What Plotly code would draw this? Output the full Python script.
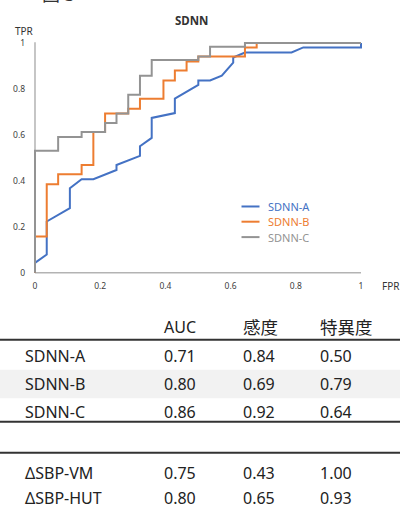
import plotly.graph_objects as go

# ---- ROC data ----
fpr_a = [0, 0, 0.036, 0.036, 0.107, 0.107, 0.143, 0.179, 0.25, 0.25, 0.322, 0.322, 0.358, 0.358,
         0.429, 0.429, 0.501, 0.501, 0.537, 0.573, 0.608, 0.608, 0.644, 0.787, 0.823, 1, 1]
tpr_a = [0, 0.043, 0.079, 0.223, 0.281, 0.368, 0.407, 0.407, 0.447, 0.469, 0.509, 0.551, 0.587, 0.674,
         0.695, 0.758, 0.818, 0.837, 0.837, 0.858, 0.915, 0.937, 0.959, 0.959, 0.981, 0.981, 1]

fpr_b = [0, 0, 0.036, 0.036, 0.071, 0.071, 0.143, 0.143, 0.179, 0.179, 0.215, 0.215, 0.286, 0.286,
         0.322, 0.322, 0.394, 0.394, 0.429, 0.429, 0.465, 0.465, 0.501, 0.501, 0.644, 0.644, 0.68, 0.68, 1]
tpr_b = [0, 0.158, 0.158, 0.385, 0.385, 0.429, 0.429, 0.469, 0.469, 0.613, 0.613, 0.693, 0.693, 0.714,
         0.714, 0.758, 0.758, 0.837, 0.837, 0.880, 0.880, 0.92, 0.92, 0.941, 0.941, 0.981, 0.981, 1, 1]

fpr_c = [0, 0, 0.071, 0.071, 0.143, 0.143, 0.215, 0.215, 0.25, 0.25, 0.286, 0.286, 0.322, 0.322,
         0.358, 0.358, 0.501, 0.501, 0.537, 0.537, 0.644, 0.644, 1]
tpr_c = [0, 0.531, 0.531, 0.591, 0.591, 0.613, 0.613, 0.652, 0.652, 0.693, 0.693, 0.775, 0.775, 0.858,
         0.858, 0.926, 0.926, 0.941, 0.941, 0.984, 0.984, 1, 1]

series_names = ["SDNN-A", "SDNN-B", "SDNN-C"]
series_colors = ["#4472C4", "#ED7D31", "#939393"]

tick_vals = [0, 0.2, 0.4, 0.6, 0.8, 1]
tick_text = ["0", "0.2", "0.4", "0.6", "0.8", "1"]

# ---- table data ----
header = ["AUC", "感度", "特異度"]
row_labels = ["SDNN-A", "SDNN-B", "SDNN-C", "ΔSBP-VM", "ΔSBP-HUT"]
auc = ["0.71", "0.80", "0.86", "0.75", "0.80"]
sens = ["0.84", "0.69", "0.92", "0.43", "0.65"]
spec = ["0.50", "0.79", "0.64", "1.00", "0.93"]

W, H = 400, 510
FONT = "Noto Sans, Noto Sans CJK JP, sans-serif"


def px_x(p):
    return p / W


def px_y(p):
    return 1 - p / H


# plot geometry (pixels): data 0..1 on x -> 35..361, on y -> 273.3..42.3
x0p, x1p = 35.0, 361.0
y0p, y1p = 273.3, 42.3
xr = [-0.012, 1.012]
yr = [-0.012, 1.02]
sx = x1p - x0p
sy = y0p - y1p
dom_x = [px_x(x0p + xr[0] * sx), px_x(x0p + xr[1] * sx)]
dom_y = [px_y(y0p - yr[0] * sy), px_y(y0p - yr[1] * sy)]

fig = go.Figure()
for fx, ty, name, col in zip([fpr_a, fpr_b, fpr_c], [tpr_a, tpr_b, tpr_c], series_names, series_colors):
    fig.add_trace(go.Scatter(x=fx, y=ty, mode="lines", name=name,
                             line=dict(color=col, width=2), showlegend=False, hoverinfo="skip"))

shapes = []
annotations = []


def label(text, x, y, size, color="#333333", xanchor="center", yanchor="middle"):
    annotations.append(dict(text=text, x=px_x(x), y=px_y(y), xref="paper", yref="paper",
                            xanchor=xanchor, yanchor=yanchor, showarrow=False,
                            font=dict(family=FONT, size=size, color=color)))


# axis lines (data coords)
shapes.append(dict(type="line", xref="x", yref="y", x0=0, y0=0, x1=1, y1=0,
                   line=dict(color="#b3b3b3", width=1.5), layer="below"))
shapes.append(dict(type="line", xref="x", yref="y", x0=0, y0=0, x1=0, y1=1.003,
                   line=dict(color="#b3b3b3", width=1.5), layer="below"))

# chart title & axis titles
label("<b>SDNN</b>", 191, 20, 11.5)
label("TPR", 24.5, 30.5, 10)
label("FPR", 391, 286.7, 10)

# cut-off figure label at the very top
label("図 3", 40, 7, 18, xanchor="left", yanchor="bottom")

# legend
leg_y = [206.7, 222.0, 237.5]
for name, col, ly in zip(series_names, series_colors, leg_y):
    shapes.append(dict(type="line", xref="paper", yref="paper", x0=px_x(241.5), x1=px_x(259.5),
                       y0=px_y(ly), y1=px_y(ly), line=dict(color=col, width=2)))
    label(name, 266, ly, 11, color=col, xanchor="left")

# ---- table ----
col_x = [162, 240.5, 318]
label_x = 23
header_y = 328
row_y = [356.7, 385.0, 413.3, 475.0, 500.0]

# shaded row for SDNN-B
shapes.append(dict(type="rect", xref="paper", yref="paper", x0=0, x1=1,
                   y0=px_y(399.5), y1=px_y(371), fillcolor="#f2f2f2", line=dict(width=0), layer="below"))
for ly in [340.7, 423.3, 454.3]:
    shapes.append(dict(type="line", xref="paper", yref="paper", x0=0, x1=1, y0=px_y(ly), y1=px_y(ly),
                       line=dict(color="#333333", width=2)))

for hx, htxt in zip(col_x, header):
    size = 16 if htxt == "AUC" else 17.5
    label(htxt, hx, header_y, size, color="#222222", xanchor="left")

for i, lab in enumerate(row_labels):
    label(lab, label_x, row_y[i], 16, color="#222222", xanchor="left")
    for cx, vals in zip(col_x, [auc, sens, spec]):
        label(vals[i], cx, row_y[i], 16, color="#222222", xanchor="left")

fig.update_layout(
    width=W, height=H,
    margin=dict(l=0, r=0, t=0, b=0),
    paper_bgcolor="white", plot_bgcolor="rgba(0,0,0,0)",
    showlegend=False,
    xaxis=dict(domain=dom_x, range=xr, showgrid=False, zeroline=False, showline=False,
               tickvals=tick_vals, ticktext=tick_text, ticks="", ticklabelstandoff=4,
               tickfont=dict(family=FONT, size=8.5, color="#404040"), fixedrange=True),
    yaxis=dict(domain=dom_y, range=yr, showgrid=False, zeroline=False, showline=False,
               tickvals=tick_vals, ticktext=tick_text, ticks="", ticklabelstandoff=5,
               tickfont=dict(family=FONT, size=8.5, color="#404040"), fixedrange=True),
    shapes=shapes,
    annotations=annotations,
)

fig.write_html(
    "out.html",
    config={"displayModeBar": False},
    post_script="document.body.style.margin='0px';document.body.style.padding='0px';"
                "document.body.style.overflow='hidden';",
)
